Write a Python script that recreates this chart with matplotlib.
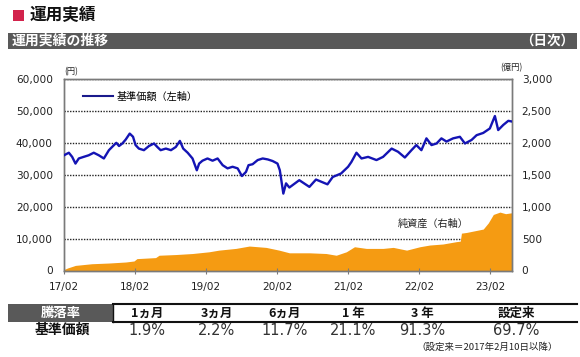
import pandas as pd
import matplotlib
matplotlib.use("Agg")
import matplotlib.pyplot as plt
import matplotlib.dates as mdates
from matplotlib.patches import Rectangle
from matplotlib.lines import Line2D
from matplotlib.ticker import FuncFormatter

plt.rcParams['font.family'] = ['DejaVu Sans', 'Noto Sans CJK JP']
JP = ['Noto Sans CJK JP', 'DejaVu Sans']

# 基準価額 (円, 左軸)
nav_dates = [
    "2017-02-10", "2017-03-07", "2017-03-24", "2017-04-10", "2017-04-27", "2017-05-22",
    "2017-06-17", "2017-07-13", "2017-08-08", "2017-09-03", "2017-09-29", "2017-10-25",
    "2017-11-06", "2017-11-20", "2017-12-07", "2017-12-24", "2018-01-14", "2018-01-31",
    "2018-02-13", "2018-03-02", "2018-03-28", "2018-04-23", "2018-05-19", "2018-06-05",
    "2018-06-22", "2018-07-19", "2018-08-14", "2018-09-08", "2018-09-29", "2018-10-16",
    "2018-11-08", "2018-12-03", "2018-12-25", "2019-01-06", "2019-01-23", "2019-02-18",
    "2019-03-16", "2019-04-11", "2019-05-07", "2019-06-01", "2019-06-27", "2019-07-23",
    "2019-08-14", "2019-09-04", "2019-09-17", "2019-10-08", "2019-11-03", "2019-11-29",
    "2019-12-25", "2020-01-19", "2020-02-13", "2020-02-25", "2020-03-14", "2020-03-28",
    "2020-04-14", "2020-06-04", "2020-07-26", "2020-08-29", "2020-10-27", "2020-11-23",
    "2021-01-05", "2021-02-10", "2021-02-27", "2021-03-25", "2021-04-20", "2021-05-24",
    "2021-07-06", "2021-08-09", "2021-09-22", "2021-10-25", "2021-11-29", "2022-01-02",
    "2022-01-27", "2022-02-22", "2022-03-20", "2022-04-15", "2022-05-11", "2022-06-05",
    "2022-07-01", "2022-08-04", "2022-09-08", "2022-10-04", "2022-11-07", "2022-12-03",
    "2023-01-06", "2023-02-09", "2023-03-07", "2023-03-24", "2023-04-19", "2023-05-15",
    "2023-06-01",
]
nav_values = [
    36100, 36900, 35600, 33500, 35100, 35600,
    36100, 36900, 36100, 35100, 37700, 39300,
    40000, 39000, 39800, 41000, 42900, 41900,
    39300, 38200, 37700, 39000, 39800, 38700,
    37700, 38200, 37700, 38700, 40600, 38200,
    36900, 35100, 31400, 33500, 34400, 35100,
    34400, 35100, 33000, 32000, 32500, 32000,
    29600, 30900, 33000, 33300, 34600, 35100,
    34800, 34300, 33500, 31400, 24100, 27300,
    26000, 28300, 26200, 28500, 27000, 29300,
    30400, 32500, 34000, 36900, 35100, 35600,
    34600, 35600, 38200, 37200, 35400, 37700,
    39300, 37700, 41400, 39300, 39800, 41400,
    40400, 41400, 41900, 39800, 40900, 42400,
    43100, 44500, 48400, 44000, 45600, 46900,
    46700,
]

# 純資産 (億円, 右軸)
asset_dates = [
    "2017-02-10", "2017-03-01", "2017-04-10", "2017-07-03", "2017-09-29", "2017-12-24",
    "2018-02-05", "2018-02-20", "2018-05-27", "2018-06-14", "2018-09-08", "2018-12-03",
    "2019-02-26", "2019-04-18", "2019-07-14", "2019-09-21", "2019-12-16", "2020-02-21",
    "2020-04-14", "2020-07-26", "2020-10-20", "2020-12-11", "2021-02-01", "2021-03-15",
    "2021-05-15", "2021-08-09", "2021-09-30", "2021-12-08", "2022-02-14", "2022-04-06",
    "2022-06-13", "2022-08-21", "2022-09-10", "2022-09-16", "2022-10-12", "2023-01-06",
    "2023-02-01", "2023-02-27", "2023-04-02", "2023-05-01", "2023-06-01",
]
asset_values = [
    15, 40, 80, 106, 117, 133,
    149, 186, 202, 239, 250, 266,
    293, 319, 346, 383, 362, 319,
    277, 277, 266, 239, 293, 372,
    346, 346, 362, 319, 372, 399,
    415, 452, 460, 585, 596, 649,
    745, 878, 915, 890, 904,
]

tick_dates = ["2017-02-10", "2018-02-10", "2019-02-10", "2020-02-10",
              "2021-02-10", "2022-02-10", "2023-02-10"]

periods = ["1ヵ月", "3ヵ月", "6ヵ月", "1 年", "3 年", "設定来"]
returns = ["1.9%", "2.2%", "11.7%", "21.1%", "91.3%", "69.7%"]

W, H = 580, 357
fig = plt.figure(figsize=(W / 100, H / 100), dpi=100)


def fx(x):
    return x / W


def fy(y):
    return 1 - y / H


# タイトル
fig.add_artist(Rectangle((fx(12.5), fy(21)), 11.5 / W, 11.5 / H,
                         transform=fig.transFigure, color='#d2234c', lw=0))
fig.text(fx(30), fy(15), "運用実績", family=JP, fontsize=12, fontweight='bold',
         va='center', ha='left', color='#111111')

fig.add_artist(Rectangle((fx(8), fy(48.5)), 569 / W, 15.5 / H,
                         transform=fig.transFigure, color='#595959', lw=0))
fig.text(fx(12), fy(41), "運用実績の推移", family=JP, fontsize=10, fontweight='bold',
         va='center', ha='left', color='white')
fig.text(fx(574), fy(41), "（日次）", family=JP, fontsize=9.7, fontweight='bold',
         va='center', ha='right', color='white')

# グラフ
ax = fig.add_axes([fx(64), fy(270.5), (512 - 64) / W, (270.5 - 79) / H])
ax2 = ax.twinx()

d_nav = pd.to_datetime(nav_dates)
d_asset = pd.to_datetime(asset_dates)

ax2.fill_between(d_asset, asset_values, 0, color='#f59b12', lw=0, zorder=2)
ax2.set_ylim(0, 3000)
ax2.set_yticks(range(0, 3001, 500))
ax2.yaxis.set_major_formatter(FuncFormatter(lambda v, p: f"{int(v):,}"))
ax2.grid(axis='y', color='#222222', linestyle=(0, (1, 1)), lw=1.0)
ax2.set_axisbelow(True)

ax.set_zorder(ax2.get_zorder() + 1)
ax.patch.set_visible(False)
ax.plot(d_nav, nav_values, color='#1414b4', lw=1.7, zorder=3)
ax.set_ylim(0, 60000)
ax.set_yticks(range(0, 60001, 10000))
ax.yaxis.set_major_formatter(FuncFormatter(lambda v, p: f"{int(v):,}"))

ax.set_xlim(pd.Timestamp("2017-02-10"), pd.Timestamp("2023-06-03"))
ax.set_xticks(pd.to_datetime(tick_dates))
ax.xaxis.set_major_formatter(mdates.DateFormatter('%y/%m'))

for a in (ax, ax2):
    for s in a.spines.values():
        s.set_color('#7a7a7a')
        s.set_linewidth(1.0)
ax.tick_params(axis='y', length=0, pad=8, labelsize=7.6, labelcolor='#222222')
ax2.tick_params(axis='y', length=0, pad=7, labelsize=7.6, labelcolor='#222222')
ax.tick_params(axis='x', direction='inout', length=4, color='#7a7a7a', pad=6,
               labelsize=7.6, labelcolor='#222222')

handle = Line2D([], [], color='#1a1a8c', lw=1.5)
leg = ax.legend([handle], ["基準価額（左軸）"], loc='center left',
                bbox_to_anchor=(0.042, 0.907), frameon=False, borderpad=0,
                borderaxespad=0, handlelength=3.0, handletextpad=0.35,
                prop={'family': JP, 'size': 7.3})

ax.text(0.7455, 0.2465, "純資産（右軸）", transform=ax.transAxes, family=JP,
        fontsize=7.3, va='center', ha='left', color='#222222')

fig.text(fx(71.5), fy(72), "(円)", family=JP, fontsize=6, ha='center', va='center',
         color='#222222')
fig.text(fx(511), fy(68), "(億円)", family=JP, fontsize=6, ha='center', va='center',
         color='#222222')

# 騰落率テーブル
col_x = [147, 216.5, 285, 353, 422, 516]
fig.add_artist(Rectangle((fx(8), fy(322)), 105 / W, 18 / H,
                         transform=fig.transFigure, color='#595959', lw=0))
fig.text(fx(61), fy(313), "騰落率", family=JP, fontsize=9.6, fontweight='bold',
         color='white', ha='center', va='center')
for yy in (304, 321.5):
    fig.add_artist(Line2D([fx(113), fx(577)], [fy(yy), fy(yy)], color='#111111',
                          lw=1.5, transform=fig.transFigure))
fig.add_artist(Line2D([fx(113), fx(113)], [fy(304), fy(321.5)], color='#111111',
                      lw=1.0, transform=fig.transFigure))
for x, p, r in zip(col_x, periods, returns):
    fig.text(fx(x), fy(313), p, family=JP, fontsize=9, fontweight='bold',
             color='#111111', ha='center', va='center')
    fig.text(fx(x), fy(330.5), r, fontsize=10.5, color='#333333',
             ha='center', va='center')
fig.text(fx(62), fy(330), "基準価額", family=JP, fontsize=10, fontweight='bold',
         color='#111111', ha='center', va='center')
fig.text(fx(558), fy(347), "（設定来＝2017年2月10日以降）", family=JP, fontsize=6.8,
         color='#222222', ha='right', va='center')

fig.savefig('out.png', dpi=100)
